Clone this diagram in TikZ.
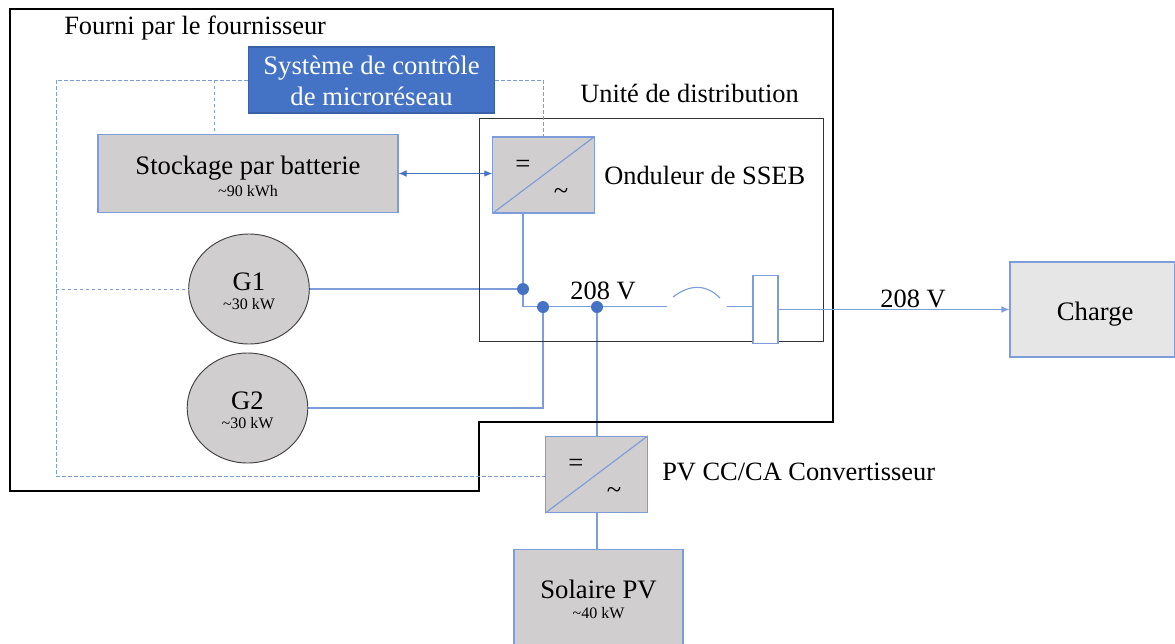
\documentclass[tikz,border=0pt]{standalone}
\usepackage{fontspec}
\setmainfont{Liberation Serif}
\usetikzlibrary{arrows.meta,shapes.geometric}
\definecolor{ublue}{HTML}{4472C4}
\definecolor{lblue}{HTML}{7C9CDA}
\definecolor{ugrey}{HTML}{D0CECE}
\definecolor{lgrey}{HTML}{E7E6E6}
\pgfdeclarelayer{wires}
\pgfsetlayers{wires,main}
\tikzset{
  x=0.75pt,y=-0.75pt,
  boxnode/.style={draw=lblue,fill=ugrey,line width=0.85pt,inner sep=0pt,align=center,text=black,font=\fontsize{20}{22}\selectfont},
  gennode/.style={draw=black!75,fill=ugrey,ellipse,line width=0.7pt,inner sep=0pt,align=center,font=\fontsize{20}{22}\selectfont},
  lbl/.style={inner sep=0pt,anchor=west,font=\fontsize{19.8}{22}\selectfont},
  wire/.style={draw=lblue,line width=0.85pt},
  ctl/.style={draw=lblue,line width=0.65pt,dash pattern=on 2.5pt off 2pt},
  jdot/.style={circle,fill=ublue,inner sep=0pt,minimum size=9pt},
}
\newcommand{\smalltxt}[1]{{\fontsize{12}{12}\selectfont #1}}
\begin{document}
\begin{tikzpicture}
\useasboundingbox (0,0) rectangle (1175,643);
\draw[black,line width=2.2pt,line join=miter] (10,9) -- (833,9) -- (833,422) -- (479,422) -- (479,491) -- (10,491) -- cycle;
\node[lbl] (fourni) at (64,28) {Fourni par le fournisseur};
\node[draw=black!80,line width=0.7pt,minimum width=258pt,minimum height=167.25pt,inner sep=0pt] (dist) at (651,229.5) {};
\node[lbl] (distl) at (580,93) {Unité de distribution};
\node[boxnode,draw=ublue!85!black,fill=ublue,text=white,minimum width=185pt,minimum height=49.5pt] (ctrl) at (371.5,80) {\rule{0pt}{15.5pt}Système de contrôle\\[1pt]de microréseau};
\node[boxnode,minimum width=225pt,minimum height=59pt] (bat) at (248,173.5) {\rule{0pt}{18.5pt}Stockage par batterie\\[-5.75pt]\smalltxt{\textasciitilde90 kWh}};
\node[boxnode,minimum width=76pt,minimum height=57pt] (inv) at (543.5,175) {};
\draw[wire] (inv.south west) -- (inv.north east);
\node[inner sep=0pt,font=\fontsize{20}{22}\selectfont] (invA) at (523,166) {=};
\node[inner sep=0pt,font=\fontsize{20}{22}\selectfont] (invB) at (561,194) {\textasciitilde};
\node[lbl] (invl) at (604,175) {Onduleur de SSEB};
\node[gennode,minimum width=90.5pt,minimum height=82.5pt] (g1) at (249,289) {\rule{0pt}{17pt}G1\\[-8pt]\smalltxt{\textasciitilde30 kW}};
\node[gennode,minimum width=90.5pt,minimum height=82.5pt] (g2) at (247.5,408) {\rule{0pt}{17pt}G2\\[-8pt]\smalltxt{\textasciitilde30 kW}};
\node[draw=lblue,fill=white,line width=0.85pt,minimum width=18.75pt,minimum height=50.5pt,inner sep=0pt] (brk) at (765.5,309.5) {};
\node[boxnode,fill=lgrey,minimum width=123.75pt,minimum height=71.25pt] (load) at (1092.5,309.5) {\rule{0pt}{21pt}\hspace*{4pt}Charge};
\node[boxnode,minimum width=76pt,minimum height=57pt] (conv) at (596.5,474.5) {};
\draw[wire] (conv.south west) -- (conv.north east);
\node[inner sep=0pt,font=\fontsize{20}{22}\selectfont] (convA) at (576,465) {=};
\node[inner sep=0pt,font=\fontsize{20}{22}\selectfont] (convB) at (614,493) {\textasciitilde};
\node[lbl] (convl) at (662,472) {PV CC/CA Convertisseur};
\node[boxnode,minimum width=126.75pt,minimum height=72pt,anchor=north] (pv) at (598.5,549) {\rule{0pt}{17pt}Solaire PV\\[-7.25pt]\smalltxt{\textasciitilde40 kW}};
\node[jdot] (j1) at (523,289) {};
\node[jdot] (j2) at (543,307) {};
\node[jdot] (j3) at (597,307) {};
\coordinate (bend) at (523,306.5);
\coordinate (brkin) at (brk.west |- bend);
\coordinate (gapa) at (667,306.5);
\coordinate (gapb) at (727,306.5);
\coordinate (arca) at (673,297);
\coordinate (arcb) at (720,298);
\begin{pgfonlayer}{wires}
\draw[wire] (g1.east) -- (j1.center);
\draw[wire] (inv.south -| j1) -- (j1.center) -- (bend) -- (gapa);
\draw[wire] (g2.east) -| (j2.center);
\draw[wire] (j3.center) -- (conv.north -| j3);
\end{pgfonlayer}
\draw[wire] (arca) .. controls (690,284) and (706,284) .. (arcb);
\draw[wire] (gapb) -- (brkin);
\draw[wire,-{Latex[length=6pt,width=5pt]}] (brk.east |- load.west) -- (load.west);
\draw[wire] (conv.south -| j3) -- (pv.north -| j3);
\draw[draw=ublue,line width=0.85pt,{Latex[length=6pt,width=5pt]}-{Latex[length=6pt,width=5pt]}] (bat.east) -- (inv.west |- bat.east);
\coordinate (ctlL) at (56,80);
\coordinate (ctlB) at (56,476);
\coordinate (ctlR) at (543,80);
\coordinate (ctlG) at (56,289);
\coordinate (ctlT) at (214,80);
\draw[ctl] (ctrl.west) -- (ctlL) -- (ctlB) -- (conv.west |- ctlB);
\draw[ctl] (ctlT) -- (bat.north -| ctlT);
\draw[ctl] (ctlG) -- (g1.west);
\draw[ctl] (ctrl.east) -- (ctlR) -- (inv.north -| ctlR);
\node[inner sep=0pt,font=\fontsize{19.8}{22}\selectfont] (v1) at (603,291) {208 V};
\node[inner sep=0pt,font=\fontsize{19.8}{22}\selectfont] (v2) at (913,299) {208 V};
\end{tikzpicture}
\end{document}
